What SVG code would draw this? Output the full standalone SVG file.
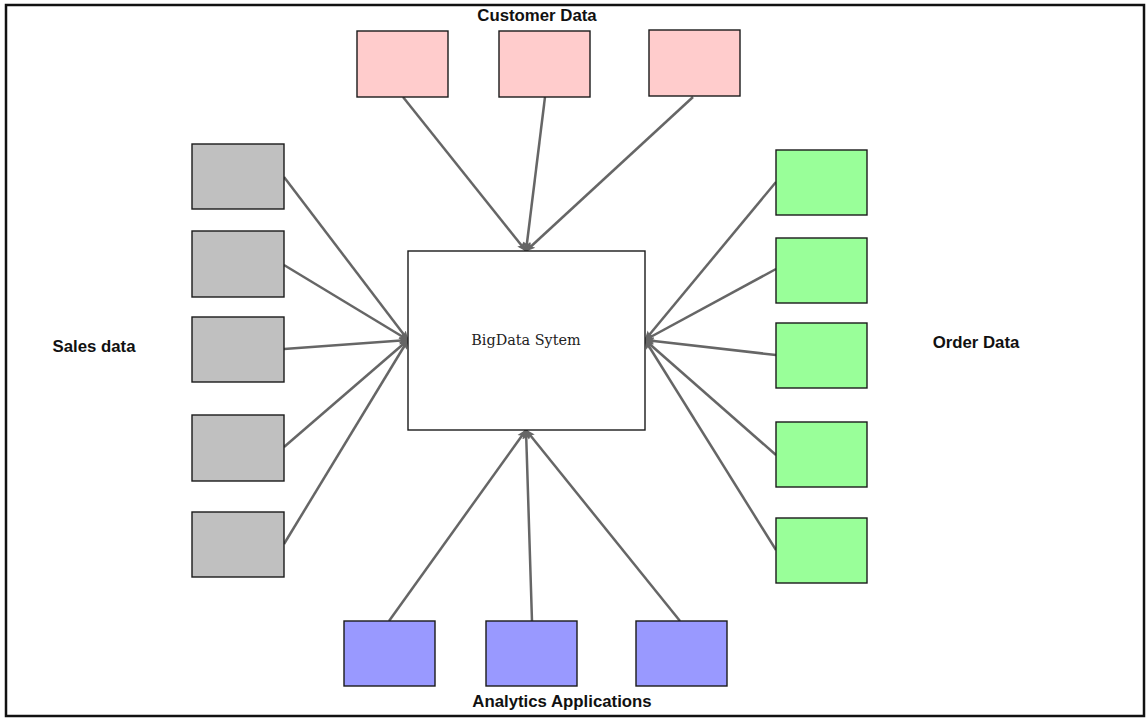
<svg xmlns="http://www.w3.org/2000/svg" width="1147" height="718" viewBox="0 0 1147 718">
  <style>
    .box { stroke: #1a1a1a; stroke-width: 1.4; }
    .pink { fill: #ffcccc; }
    .gray { fill: #c0c0c0; }
    .green { fill: #99ff99; }
    .blue { fill: #9999ff; }
    .core { fill: #ffffff; }
    .lbl { font-family: "Liberation Sans", Arial, sans-serif; font-weight: bold; font-size: 16.8px; fill: #111; }
    .center { font-family: "DejaVu Serif", "Liberation Serif", serif; font-size: 14.4px; fill: #222; }
    .edge { stroke: #666; stroke-width: 2.5; fill: none; marker-end: url(#arrow); }
  </style>
  <defs>
    <marker id="arrow" viewBox="0 0 10 10" refX="9" refY="5" markerWidth="4" markerHeight="4" orient="auto" markerUnits="strokeWidth">
      <path d="M0,1 L10,5 L0,9 L2,5 Z" fill="#666"/>
    </marker>
  </defs>

  <rect x="0" y="0" width="1147" height="718" fill="#ffffff"/>
  <!-- outer frame -->
  <rect x="6" y="5" width="1138" height="711" fill="none" stroke="#111" stroke-width="2.5"/>

  <!-- connectors -->
  <g id="connectors">
    <line class="edge" x1="403" y1="97" x2="526" y2="251"/>
    <line class="edge" x1="545" y1="97" x2="526" y2="251"/>
    <line class="edge" x1="693" y1="97" x2="526" y2="251"/>

    <line class="edge" x1="284" y1="177" x2="408" y2="340"/>
    <line class="edge" x1="284" y1="265" x2="408" y2="340"/>
    <line class="edge" x1="284" y1="349" x2="408" y2="340"/>
    <line class="edge" x1="284" y1="447" x2="408" y2="340"/>
    <line class="edge" x1="284" y1="544" x2="408" y2="340"/>

    <line class="edge" x1="776" y1="182" x2="645" y2="340"/>
    <line class="edge" x1="776" y1="269" x2="645" y2="340"/>
    <line class="edge" x1="776" y1="355" x2="645" y2="340"/>
    <line class="edge" x1="776" y1="455" x2="645" y2="340"/>
    <line class="edge" x1="776" y1="550" x2="645" y2="340"/>

    <line class="edge" x1="389" y1="621" x2="526" y2="430"/>
    <line class="edge" x1="532" y1="621" x2="526" y2="430"/>
    <line class="edge" x1="680" y1="621" x2="526" y2="430"/>
  </g>

  <!-- central system -->
  <g id="bigdata">
    <rect class="box core" x="408" y="251" width="237" height="179"/>
    <text class="center" x="526" y="345" text-anchor="middle">BigData Sytem</text>
  </g>

  <!-- customer data sources -->
  <g id="customer-1"><rect class="box pink" x="357" y="31" width="91" height="66"/></g>
  <g id="customer-2"><rect class="box pink" x="499" y="31" width="91" height="66"/></g>
  <g id="customer-3"><rect class="box pink" x="649" y="30" width="91" height="66"/></g>

  <!-- sales data sources -->
  <g id="sales-1"><rect class="box gray" x="192" y="144" width="92" height="65"/></g>
  <g id="sales-2"><rect class="box gray" x="192" y="231" width="92" height="66"/></g>
  <g id="sales-3"><rect class="box gray" x="192" y="317" width="92" height="65"/></g>
  <g id="sales-4"><rect class="box gray" x="192" y="415" width="92" height="66"/></g>
  <g id="sales-5"><rect class="box gray" x="192" y="512" width="92" height="65"/></g>

  <!-- order data sources -->
  <g id="order-1"><rect class="box green" x="776" y="150" width="91" height="65"/></g>
  <g id="order-2"><rect class="box green" x="776" y="238" width="91" height="65"/></g>
  <g id="order-3"><rect class="box green" x="776" y="323" width="91" height="65"/></g>
  <g id="order-4"><rect class="box green" x="776" y="422" width="91" height="65"/></g>
  <g id="order-5"><rect class="box green" x="776" y="518" width="91" height="65"/></g>

  <!-- analytics applications -->
  <g id="analytics-1"><rect class="box blue" x="344" y="621" width="91" height="65"/></g>
  <g id="analytics-2"><rect class="box blue" x="486" y="621" width="91" height="65"/></g>
  <g id="analytics-3"><rect class="box blue" x="636" y="621" width="91" height="65"/></g>

  <!-- group labels -->
  <g id="labels">
    <text class="lbl" x="537" y="21" text-anchor="middle">Customer Data</text>
    <text class="lbl" x="94" y="352" text-anchor="middle">Sales data</text>
    <text class="lbl" x="976" y="348" text-anchor="middle">Order Data</text>
    <text class="lbl" x="562" y="707" text-anchor="middle">Analytics Applications</text>
  </g>
</svg>
